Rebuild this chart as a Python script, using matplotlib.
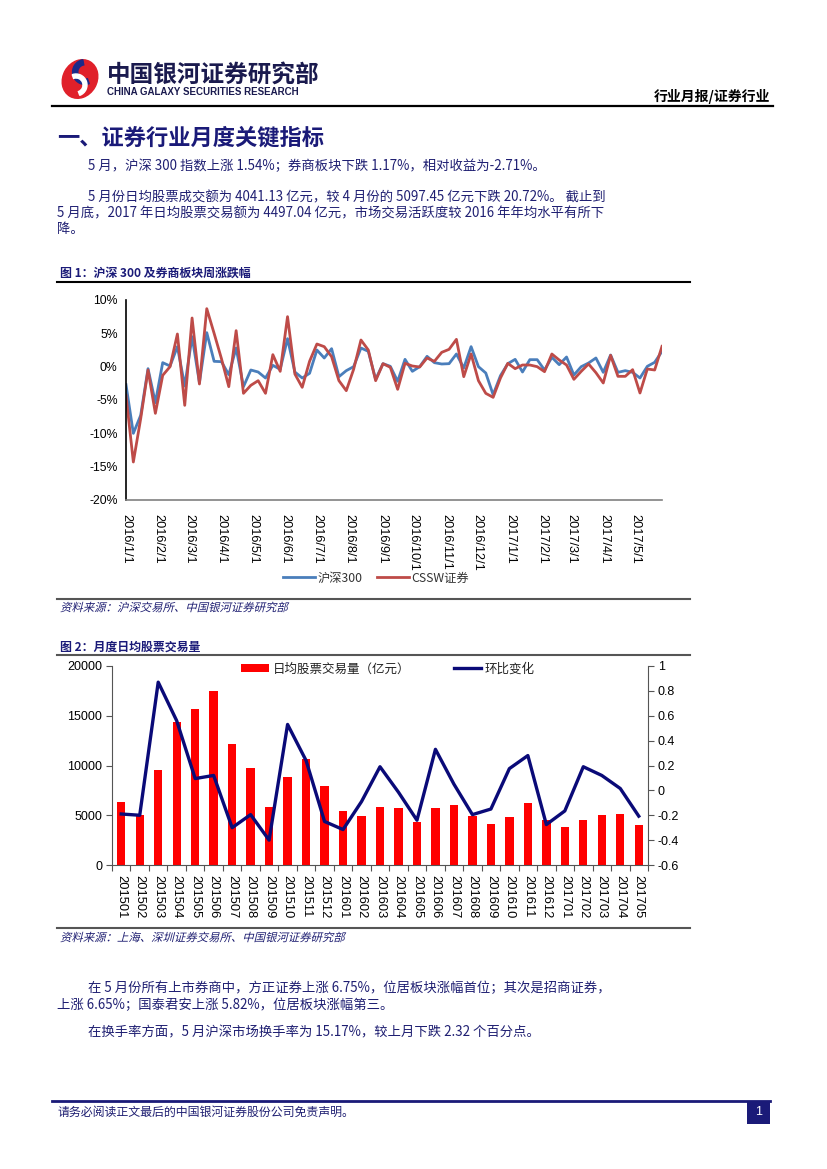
import numpy as np
import pandas as pd
import matplotlib
matplotlib.use("Agg")
import matplotlib.pyplot as plt
from matplotlib.lines import Line2D
from matplotlib.patches import Rectangle, Circle, Wedge, PathPatch, Patch, Ellipse
from matplotlib.textpath import TextPath
from matplotlib.font_manager import FontProperties
from matplotlib.transforms import Affine2D
from matplotlib.ticker import FuncFormatter, FixedLocator

# ---------------- data ----------------
week_start = "2016-01-01"
hs300 = [-2.7, -10.0, -7.3, -0.3, -5.4, 0.6, 0.1, 3.0, -2.9, 4.5,
         -2.4, 5.1, 0.8, 0.75, -1.2, 2.8, -3.0, -0.5, -0.8, -1.7,
         0.2, -0.4, 4.2, -0.8, -1.7, -1.0, 2.5, 1.3, 2.7, -1.5,
         -0.6, 0.0, 2.8, 2.3, -1.9, 0.45, 0.05, -2.2, 1.1, -0.7,
         0.0, 1.55, 0.6, 0.4, 0.45, 1.9, -0.2, 3.0, 0.0, -0.95,
         -4.2, -1.35, 0.45, 1.1, -0.8, 1.05, 1.05, -0.5, 1.4, 0.3,
         1.45, -1.25, 0.0, 0.55, 1.3, -0.85, 1.75, -0.85, -0.6, -0.85,
         -1.7, 0.05, 0.65, 2.3]
cssw = [-4.3, -14.3, -7.8, -0.5, -7.0, -1.3, 0.0, 4.9, -5.8, 7.3,
        -2.6, 8.7, 5.0, 1.2, -3.0, 5.4, -4.0, -2.8, -2.1, -4.0,
        1.8, -0.7, 7.5, -1.1, -3.1, 0.8, 3.4, 3.0, 1.5, -2.1,
        -3.6, -0.4, 4.0, 2.5, -2.1, 0.45, -0.1, -3.4, 0.5, 0.1,
        -0.05, 1.3, 0.8, 2.15, 2.6, 4.1, -1.5, 1.9, -2.1, -4.0,
        -4.6, -1.7, 0.5, -0.3, 0.25, 0.25, 0.0, -0.75, 1.9, 1.0,
        0.25, -1.9, -0.7, 0.4, -0.9, -2.45, 1.7, -1.45, -1.45, -0.45,
        -3.95, -0.35, -0.5, 3.05]
month_ticks = ["2016-01-01", "2016-02-01", "2016-03-01", "2016-04-01", "2016-05-01",
               "2016-06-01", "2016-07-01", "2016-08-01", "2016-09-01", "2016-10-01",
               "2016-11-01", "2016-12-01", "2017-01-01", "2017-02-01", "2017-03-01",
               "2017-04-01", "2017-05-01"]
month_labels = ["2016/1/1", "2016/2/1", "2016/3/1", "2016/4/1", "2016/5/1", "2016/6/1",
                "2016/7/1", "2016/8/1", "2016/9/1", "2016/10/1", "2016/11/1", "2016/12/1",
                "2017/1/1", "2017/2/1", "2017/3/1", "2017/4/1", "2017/5/1"]
y1_ticks = [-20, -15, -10, -5, 0, 5, 10]

months = ["201501", "201502", "201503", "201504", "201505", "201506", "201507", "201508",
          "201509", "201510", "201511", "201512", "201601", "201602", "201603", "201604",
          "201605", "201606", "201607", "201608", "201609", "201610", "201611", "201612",
          "201701", "201702", "201703", "201704", "201705"]
turnover = [6380, 5070, 9500, 14330, 15640, 17480, 12180, 9770, 5800, 8860,
            10640, 7950, 5400, 4930, 5840, 5740, 4330, 5770, 6070, 4900,
            4160, 4870, 6210, 4500, 3790, 4500, 5070, 5097.45, 4041.13]
mom_change = [-0.19, -0.20, 0.87, 0.56, 0.095, 0.12, -0.30, -0.195, -0.40, 0.53,
              0.24, -0.25, -0.315, -0.09, 0.19, -0.015, -0.24, 0.33, 0.05, -0.195,
              -0.15, 0.175, 0.28, -0.275, -0.165, 0.19, 0.12, 0.015, -0.2072]

# ---------------- page setup ----------------
W, H = 827, 1169
fig = plt.figure(figsize=(W / 100, H / 100), dpi=100)
fig.patch.set_facecolor("white")
CJK = ["Noto Sans CJK SC", "DejaVu Sans"]
LAT = ["Liberation Sans", "Noto Sans CJK SC"]
NAVY = "#1f1f72"


def fx(x):
    return x / W


def fy(y):
    return 1 - y / H


def T(x, y, s, size=10, color=NAVY, weight="normal", ha="left", va="center", family=CJK, **kw):
    return fig.text(fx(x), fy(y), s, fontsize=size, color=color, weight=weight,
                    ha=ha, va=va, family=family, **kw)


def HL(x0, x1, y, color="black", lw=1.5):
    fig.add_artist(Line2D([fx(x0), fx(x1)], [fy(y), fy(y)], color=color, lw=lw,
                          transform=fig.transFigure))


def italic_text(x, y, s, size=8.4, color=NAVY, skew=14):
    fp = FontProperties(family="Noto Sans CJK SC")
    tp = TextPath((0, 0), s, prop=fp, size=size)
    k = fig.dpi / 72.0
    tr = Affine2D().skew_deg(skew, 0).scale(k).translate(x, (H - y) - size * k * 0.38)
    patch = PathPatch(tp, facecolor=color, edgecolor="none")
    patch.set_transform(tr)
    fig.add_artist(patch)


# ---------------- header ----------------
lax = fig.add_axes([fx(58), fy(101), fx(44), 44 / H])
lax.set_xlim(-1.1, 1.1)
lax.set_ylim(-1.1, 1.1)
lax.set_aspect("equal")
lax.axis("off")
lax.add_patch(Ellipse((0.0, 0.0), 1.7, 2.0, angle=-30, color="#e0202a"))
lax.add_patch(Wedge((0.25, 0.35), 0.62, 100, 290, width=0.26, color="#1c2a8a"))
lax.add_patch(Wedge((-0.2, -0.3), 0.55, -70, 110, width=0.2, color="white"))

T(107, 75, "中国银河证券研究部", size=17, color="#1a1a4e", weight="bold")
T(107, 92, "CHINA GALAXY SECURITIES RESEARCH", size=7.0, color="#1a1a4e", weight="bold",
  family=LAT)
T(770, 97, "行业月报/证券行业", size=10, color="black", weight="bold", ha="right")
HL(52, 773, 106, color="black", lw=1.6)

# ---------------- section text ----------------
T(57, 138, "一、证券行业月度关键指标", size=16, color="#1a1a78", weight="bold")
T(88, 166, "5 月，沪深 300 指数上涨 1.54%；券商板块下跌 1.17%，相对收益为-2.71%。", size=9.6)
T(88, 197, "5 月份日均股票成交额为 4041.13 亿元，较 4 月份的 5097.45 亿元下跌 20.72%。 截止到", size=9.6)
T(57, 213, "5 月底，2017 年日均股票交易额为 4497.04 亿元，市场交易活跃度较 2016 年年均水平有所下", size=9.6)
T(57, 229, "降。", size=9.6)

# ---------------- figure 1 ----------------
T(60, 273, "图 1：沪深 300 及券商板块周涨跌幅", size=8.6, color="#1a1a78", weight="bold")
HL(57, 690, 282, color="black", lw=1.5)

dates = pd.date_range(week_start, periods=len(hs300), freq="7D")
ax1 = fig.add_axes([fx(126), fy(500), (662 - 126) / W, 200 / H])
ax1.plot(dates, hs300, color="#4a7ebb", lw=2.0, label="沪深300")
ax1.plot(dates, cssw, color="#be4b48", lw=2.0, label="CSSW证券")
ax1.set_xlim(dates[0], dates[-1])
ax1.set_ylim(-20, 10)
ax1.set_yticks(y1_ticks)
ax1.set_yticklabels([f"{v}%" for v in y1_ticks], family=LAT, fontsize=8.8)
ax1.set_xticks(pd.to_datetime(month_ticks))
ax1.set_xticklabels(month_labels, rotation=-90, family=LAT, fontsize=9.2, va="top", ha="center")
ax1.tick_params(axis="y", length=0, pad=6)
ax1.tick_params(axis="x", length=0, pad=10)
for s in ["top", "right"]:
    ax1.spines[s].set_visible(False)
ax1.spines["left"].set_color("black")
ax1.spines["left"].set_linewidth(1.2)
ax1.spines["bottom"].set_color("#808080")
ax1.spines["bottom"].set_linewidth(1.2)
leg1 = ax1.legend(loc="center", bbox_to_anchor=(fx(376), fy(578)), bbox_transform=fig.transFigure,
                  ncol=2, frameon=False, handlelength=2.6, columnspacing=1.2, handletextpad=0.2,
                  prop={"family": CJK, "size": 8.8})
for t in leg1.get_texts():
    t.set_color("#333333")
HL(57, 690, 599, color="#555555", lw=1.5)
italic_text(60, 607, "资料来源：沪深交易所、中国银河证券研究部", size=8.2)

# ---------------- figure 2 ----------------
T(60, 647, "图 2：月度日均股票交易量", size=8.6, color="#1a1a78", weight="bold")
HL(57, 690, 655, color="#555555", lw=1.5)

ax2 = fig.add_axes([fx(112), fy(865), (648 - 112) / W, 199 / H])
x = np.arange(len(months))
ax2.bar(x, turnover, width=0.45, color="#ff0000", label="日均股票交易量（亿元）", zorder=2)
ax2.set_xlim(-0.5, len(months) - 0.5)
ax2.set_ylim(0, 20000)
ax2.set_yticks([0, 5000, 10000, 15000, 20000])
ax2.set_yticklabels(["0", "5000", "10000", "15000", "20000"], family=LAT, fontsize=9)
ax2.set_xticks(x)
ax2.set_xticklabels(months, rotation=-90, family=LAT, fontsize=9.3, va="top", ha="center")
ax2.tick_params(axis="x", which="major", length=0, pad=7)
ax2.xaxis.set_minor_locator(FixedLocator(np.arange(-0.5, len(months), 1.0)))
ax2.tick_params(axis="x", which="minor", length=4, width=0.8, color="#555555")
ax2.tick_params(axis="y", length=4, width=0.8, color="#555555", pad=3)
for s in ["top", "right"]:
    ax2.spines[s].set_visible(False)
ax2.spines["left"].set_color("#555555")
ax2.spines["bottom"].set_color("#555555")

ax3 = ax2.twinx()
ax3.plot(x, mom_change, color="#0a0a78", lw=2.4, label="环比变化", zorder=3)
ax3.set_ylim(-0.6, 1.0)
ax3.set_yticks([-0.6, -0.4, -0.2, 0, 0.2, 0.4, 0.6, 0.8, 1.0])
ax3.yaxis.set_major_formatter(FuncFormatter(lambda v, p: f"{v:g}" if abs(v) > 1e-9 else "0"))
for lab in ax3.get_yticklabels():
    lab.set_family(LAT)
ax3.tick_params(axis="y", length=4, width=0.8, color="#555555", labelsize=9, pad=3)
for s in ["top", "left", "bottom"]:
    ax3.spines[s].set_visible(False)
ax3.spines["right"].set_color("#555555")
ax3.set_xlim(-0.5, len(months) - 0.5)

handles = [Patch(facecolor="#ff0000", edgecolor="none"),
           Line2D([0], [0], color="#0a0a78", lw=2.4)]
leg2 = ax3.legend(handles, ["日均股票交易量（亿元）", "环比变化"], loc="center",
                  bbox_to_anchor=(fx(388), fy(669)), bbox_transform=fig.transFigure,
                  ncol=2, frameon=False, handlelength=2.2, handleheight=0.6,
                  columnspacing=3.5, handletextpad=0.3,
                  prop={"family": CJK, "size": 9})
for t in leg2.get_texts():
    t.set_color("#222222")

HL(57, 690, 928, color="#555555", lw=1.5)
italic_text(60, 937, "资料来源：上海、深圳证券交易所、中国银河证券研究部", size=8.2)

# ---------------- bottom text ----------------
T(88, 988, "在 5 月份所有上市券商中，方正证券上涨 6.75%，位居板块涨幅首位；其次是招商证券，", size=9.6)
T(57, 1005, "上涨 6.65%；国泰君安上涨 5.82%，位居板块涨幅第三。", size=9.6)
T(88, 1032, "在换手率方面，5 月沪深市场换手率为 15.17%，较上月下跌 2.32 个百分点。", size=9.6)

# ---------------- footer ----------------
HL(52, 770, 1101, color="#1a1a78", lw=2.0)
T(58, 1113, "请务必阅读正文最后的中国银河证券股份公司免责声明。", size=8.6)
fig.add_artist(Rectangle((fx(747), fy(1124)), 23 / W, 23 / H, transform=fig.transFigure,
                         facecolor="#1a1a78", edgecolor="none"))
T(758.5, 1112, "1", size=9, color="white", ha="center", family=LAT)

fig.savefig("out.png", dpi=100, facecolor="white")
